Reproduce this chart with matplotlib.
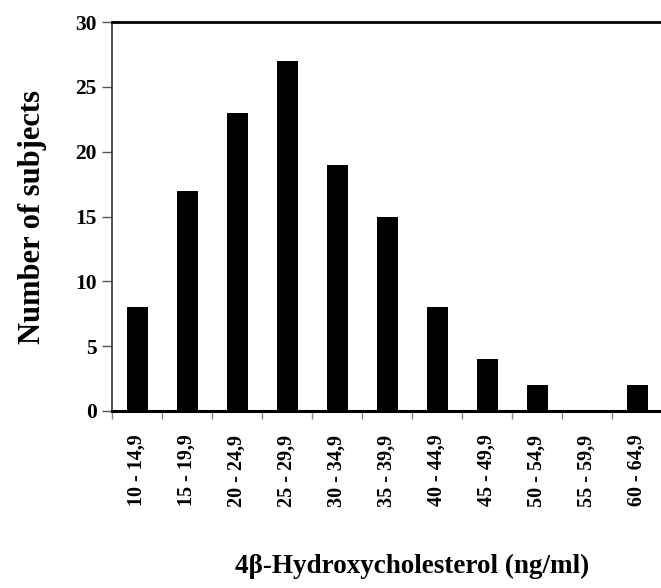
import numpy as np
import matplotlib.pyplot as plt

categories = ["10 - 14,9", "15 - 19,9", "20 - 24,9", "25 - 29,9", "30 - 34,9",
              "35 - 39,9", "40 - 44,9", "45 - 49,9", "50 - 54,9", "55 - 59,9",
              "60 - 64,9"]
counts = [8, 17, 23, 27, 19, 15, 8, 4, 2, 0, 2]
yticks = [0, 5, 10, 15, 20, 25, 30]

plt.rcParams['font.family'] = ['Liberation Serif', 'DejaVu Serif']
plt.rcParams['font.weight'] = 'bold'

fig = plt.figure(figsize=(6.61, 5.88), dpi=100)
ax = fig.add_axes([112 / 661, 1 - 411 / 588, 550 / 661, (411 - 22) / 588])

x = np.arange(len(categories))
ax.bar(x, counts, width=0.42, color='black')

ax.set_xlim(-0.5, len(categories) - 0.5)
ax.set_ylim(0, 30)
ax.set_yticks(yticks)
ax.set_yticklabels([str(v) for v in yticks], fontsize=15.5, fontweight='bold')
ax.set_xticks(x)
ax.set_xticklabels(categories, rotation=90, fontsize=14.5, fontweight='bold')
ax.tick_params(axis='x', which='major', length=0, pad=17)
ax.set_xticks(np.arange(-0.5, len(categories), 1), minor=True)
ax.tick_params(axis='x', which='minor', length=6, color='#888888', width=1, direction='out')
ax.tick_params(axis='y', length=7, width=1, color='#555555', direction='out', pad=4)

ax.spines['right'].set_visible(False)
ax.spines['top'].set_linewidth(2)
ax.spines['bottom'].set_linewidth(2.2)
ax.spines['left'].set_linewidth(1.2)
ax.spines['left'].set_color('#333333')

ax.set_ylabel('Number of subjects', fontsize=22, fontweight='bold')
ax.yaxis.set_label_coords(-0.118, 0.5)
ax.set_xlabel('4β-Hydroxycholesterol (ng/ml)', fontsize=19.5, fontweight='bold')
ax.xaxis.set_label_coords(0.545, -0.367)

fig.savefig('out.png', dpi=100)
